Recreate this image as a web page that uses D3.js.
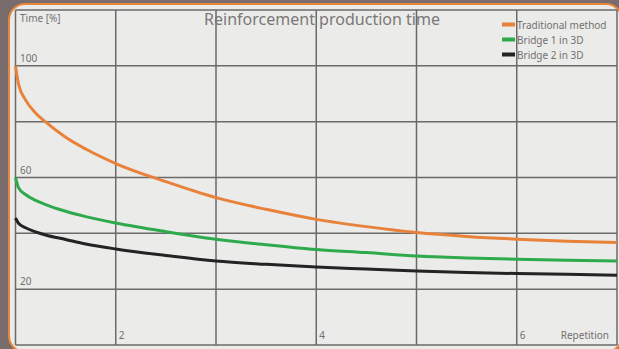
<!DOCTYPE html>
<html><head><meta charset="utf-8">
<script src="https://cdn.jsdelivr.net/npm/d3@7"></script>
<style>
html,body{margin:0;padding:0;background:#786d6c;}
svg{display:block;}
text{font-family:"Noto Sans",sans-serif;}
</style></head>
<body>
<script>
const reps = [1, 1.03, 1.1, 1.2, 1.3, 1.5, 1.7, 2, 2.5, 3, 3.5, 4, 4.5, 5, 5.5, 6, 6.5, 7];
const traditional = [100, 93.5, 87.8, 83.1, 79.9, 74.4, 70.2, 65, 58.5, 52.8, 48.6, 45, 42.4, 40.3, 38.9, 37.9, 37.2, 36.7];
const bridge1 = [60, 56.4, 53.9, 51.8, 50.3, 47.9, 46, 43.7, 40.6, 37.9, 35.9, 34.2, 33.1, 31.9, 31.2, 30.7, 30.35, 30.1];
const bridge2 = [45.5, 43.6, 42, 40.5, 39.4, 37.8, 36.2, 34.4, 32.1, 30.1, 28.9, 27.9, 27.2, 26.5, 26.0, 25.6, 25.3, 25.0];
const seriesNames = ["Traditional method", "Bridge 1 in 3D", "Bridge 2 in 3D"];
const seriesColors = ["#e8823a", "#2eaa4c", "#232323"];
const yTicks = [100, 60, 20];
const xTicks = [2, 4, 6];
const yGrid = [0, 20, 40, 60, 80, 100, 120];
const xGrid = [1, 2, 3, 4, 5, 6, 7];

const W = 619, H = 349;
const svg = d3.select("body").append("svg").attr("width", W).attr("height", H);

svg.append("rect").attr("x", 9).attr("y", 4).attr("width", 613).attr("height", 348)
  .attr("rx", 16).attr("fill", "#ebebe9").attr("stroke", "#e8873a").attr("stroke-width", 2);

const x = d3.scaleLinear().domain([1, 7]).range([15.5, 617]);
const y = d3.scaleLinear().domain([0, 120]).range([345, 10]);

const gridColor = "#6a6a6a";
const g = svg.append("g");
g.selectAll("line.v").data(xGrid).join("line").attr("class", "v")
  .attr("x1", d => x(d)).attr("x2", d => x(d)).attr("y1", y(120)).attr("y2", y(0))
  .attr("stroke", gridColor).attr("stroke-width", 1.5);
g.selectAll("line.h").data(yGrid).join("line").attr("class", "h")
  .attr("x1", x(1)).attr("x2", x(7)).attr("y1", d => y(d)).attr("y2", d => y(d))
  .attr("stroke", gridColor).attr("stroke-width", 1.5);

const labelColor = "#727070";
svg.selectAll("text.yt").data(yTicks).join("text").attr("class", "yt")
  .attr("x", 20).attr("y", d => y(d) - 4).attr("font-size", 10).attr("fill", labelColor).text(d => d);
svg.append("text").attr("x", 20).attr("y", 22).attr("font-size", 10).attr("fill", labelColor).text("Time [%]");
svg.selectAll("text.xt").data(xTicks).join("text").attr("class", "xt")
  .attr("x", d => x(d) + 3).attr("y", 339).attr("font-size", 10).attr("fill", labelColor).text(d => d);
svg.append("text").attr("x", 609).attr("y", 339).attr("text-anchor", "end").attr("font-size", 10)
  .attr("fill", labelColor).text("Repetition");

svg.append("text").attr("x", 204).attr("y", 25).attr("font-size", 16).attr("fill", "#7a7878")
  .attr("textLength", 236).attr("lengthAdjust", "spacingAndGlyphs").text("Reinforcement production time");

const all = [traditional, bridge1, bridge2];
const line = d3.line().x((d, i) => x(reps[i])).y(d => y(d)).curve(d3.curveMonotoneX);
svg.selectAll("path.s").data(all).join("path").attr("class", "s")
  .attr("d", d => line(d)).attr("fill", "none")
  .attr("stroke", (d, i) => seriesColors[i]).attr("stroke-width", 3);

const lg = svg.append("g");
seriesNames.forEach((n, i) => {
  lg.append("rect").attr("x", 502).attr("y", 22.5 + i * 15).attr("width", 13).attr("height", 4).attr("fill", seriesColors[i]);
  lg.append("text").attr("x", 517).attr("y", 28.5 + i * 15).attr("font-size", 10).attr("fill", labelColor).text(n);
});
</script>
</body></html>
